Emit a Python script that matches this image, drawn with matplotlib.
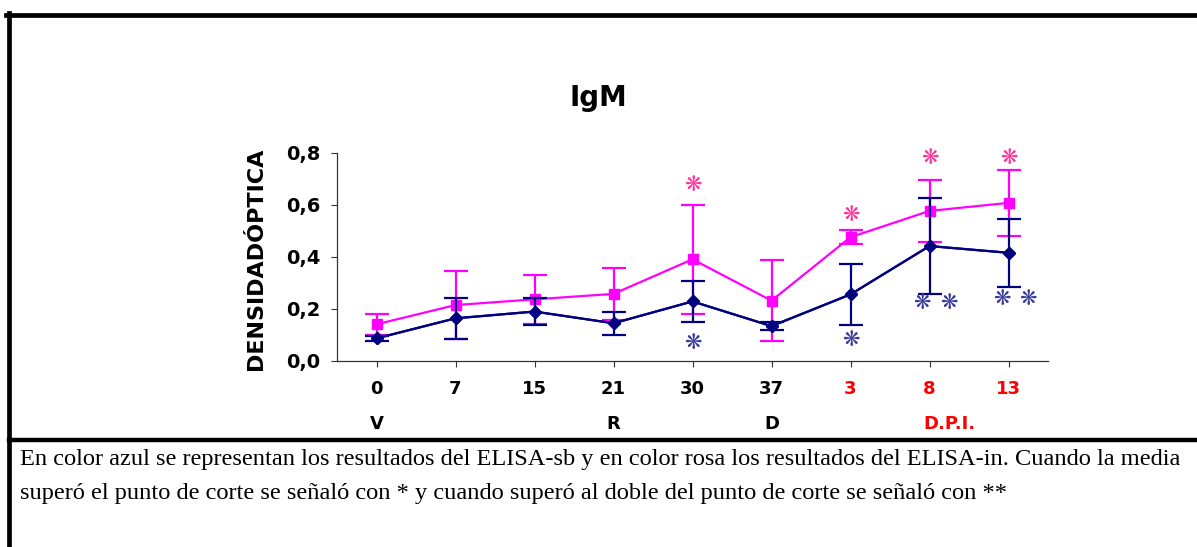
import matplotlib
matplotlib.use('Agg')
import matplotlib.pyplot as plt
from matplotlib.lines import Line2D
from matplotlib.transforms import blended_transform_factory

# Data
days = ['0', '7', '15', '21', '30', '37', '3', '8', '13']
day_colors = ['black'] * 6 + ['red'] * 3
phase_labels = ['V', 'R', 'D', 'D.P.I.']
phase_pos = [0, 3, 5, 7.25]
phase_colors = ['black', 'black', 'black', 'red']

elisa_in = [0.14, 0.214, 0.236, 0.257, 0.39, 0.231, 0.475, 0.576, 0.607]
elisa_in_err = [0.04, 0.13, 0.095, 0.10, 0.21, 0.155, 0.028, 0.12, 0.127]
elisa_sb = [0.086, 0.163, 0.189, 0.144, 0.228, 0.133, 0.255, 0.441, 0.415]
elisa_sb_err = [0.01, 0.08, 0.052, 0.044, 0.078, 0.014, 0.118, 0.185, 0.13]

# significance marks (x in category units, y in data units)
pink_star_x = [4, 6, 7, 8]
pink_star_y = [0.676, 0.56, 0.78, 0.78]
blue_star_x = [4, 6, 6.9, 7.25, 7.92, 8.25]
blue_star_y = [0.068, 0.08, 0.222, 0.222, 0.237, 0.237]

W, H = 1197, 547
BOLD = 'DejaVu Sans'
fig = plt.figure(figsize=(W / 100, H / 100), dpi=100)
ax = fig.add_axes([337 / W, 1 - 360.7 / H, (1048 - 337) / W, (360.7 - 152.7) / H])

x = list(range(len(days)))
ax.errorbar(x, elisa_sb, yerr=elisa_sb_err, color='#000080', ecolor='#000080',
            marker='D', markersize=6.5, linewidth=1.6, elinewidth=1.6,
            capsize=8.5, capthick=1.6, zorder=3)
ax.errorbar(x, elisa_in, yerr=elisa_in_err, color='#FF00FF', ecolor='#FF00FF',
            marker='s', markersize=7, linewidth=1.6, elinewidth=1.6,
            capsize=8.5, capthick=1.6, zorder=2)
# blue line and markers again on top of the pink error bars
ax.plot(x, elisa_sb, color='#000080', marker='D', markersize=6.5, linewidth=1.6, zorder=4)

for sx, sy in zip(pink_star_x, pink_star_y):
    ax.text(sx, sy, '\u274B', color='#FF3399', fontsize=15, ha='center',
            va='center', family='DejaVu Sans', zorder=5)
for sx, sy in zip(blue_star_x, blue_star_y):
    ax.text(sx, sy, '\u274B', color='#3A3A9A', fontsize=15, ha='center',
            va='center', family='DejaVu Sans', zorder=5)

ax.set_xlim(-0.5, 8.5)
ax.set_ylim(0, 0.8)
ax.set_yticks([0, 0.2, 0.4, 0.6, 0.8])
ax.set_yticklabels(['0,0', '0,2', '0,4', '0,6', '0,8'],
                   fontsize=14, fontweight='bold', family=BOLD)
ax.set_xticks(x)
ax.set_xticklabels(days, fontsize=13, fontweight='bold', family=BOLD)
ax.tick_params(axis='y', length=4, width=0.8, pad=8, colors='#333333', labelcolor='black')
ax.tick_params(axis='x', length=4, width=0.8, pad=10, colors='#333333')
for lbl, c in zip(ax.get_xticklabels(), day_colors):
    lbl.set_color(c)
for s in ['top', 'right']:
    ax.spines[s].set_visible(False)
for s in ['left', 'bottom']:
    ax.spines[s].set_color('#333333')
    ax.spines[s].set_linewidth(0.9)

trans = blended_transform_factory(ax.transData, fig.transFigure)
for lbl, px, c in zip(phase_labels, phase_pos, phase_colors):
    ax.text(px, 1 - 424 / H, lbl, transform=trans, ha='center', va='center',
            fontsize=13, fontweight='bold', color=c, family=BOLD)

fig.text(598 / W, 1 - 98 / H, 'IgM', ha='center', va='center', fontsize=20,
         fontweight='bold', family=BOLD)
fig.text(256 / W, 1 - 259 / H, 'DENSIDADÓPTICA', rotation=90, ha='center',
         va='center', fontsize=16, fontweight='bold', family=BOLD)

# frame lines
fig.add_artist(Line2D([6 / W, 1], [1 - 15 / H, 1 - 15 / H], color='black', lw=3.4))
fig.add_artist(Line2D([8.5 / W, 8.5 / W], [0, 1 - 13 / H], color='black', lw=3.4))
fig.add_artist(Line2D([8.5 / W, 1], [1 - 440 / H, 1 - 440 / H], color='black', lw=3.2))

caption1 = ('En color azul se representan los resultados del ELISA-sb y en color rosa '
            'los resultados del ELISA-in. Cuando la media')
caption2 = ('superó el punto de corte se señaló con * y cuando superó al doble del '
            'punto de corte se señaló con **')
fig.text(20 / W, 1 - 460 / H, caption1, ha='left', va='center', fontsize=17.6,
         family='Liberation Serif')
fig.text(20 / W, 1 - 494 / H, caption2, ha='left', va='center', fontsize=17.6,
         family='Liberation Serif')

fig.savefig('out.png', dpi=100)
